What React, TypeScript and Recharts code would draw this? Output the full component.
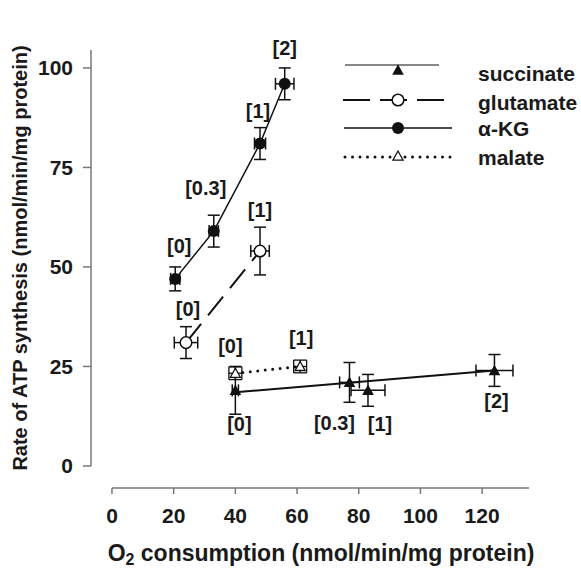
import React from "react";
import { ScatterChart, Scatter, XAxis, YAxis, ErrorBar, ReferenceLine, Label } from "recharts";

// O2 consumption (x) vs ATP synthesis (y), uncoupler dose in brackets
const doses = ["[0]", "[0.3]", "[1]", "[2]"];

const succinateO2 = [40, 77, 83, 124];
const succinateAtp = [19, 21, 19, 24];
const succinateO2Err = [1, 3.2, 5.5, 6];
const succinateAtpErr = [6, 5, 4, 4];
const succinateDoses = ["[0]", "[0.3]", "[1]", "[2]"];
const succinateFitO2 = [40, 124];
const succinateFitAtp = [18.5, 24];

const glutamateO2 = [24, 48];
const glutamateAtp = [31, 54];
const glutamateO2Err = [3.8, 3];
const glutamateAtpErr = [4, 6];
const glutamateDoses = ["[0]", "[1]"];

const akgO2 = [20.5, 33, 48, 56];
const akgAtp = [47, 59, 81, 96];
const akgO2Err = [1.5, 1.5, 1.8, 3];
const akgAtpErr = [3, 4, 4, 4];
const akgDoses = doses;

const malateO2 = [40, 61];
const malateAtp = [23.3, 25];
const malateO2Err = [2.1, 2.1];
const malateAtpErr = [1.6, 1.6];
const malateDoses = ["[0]", "[1]"];

const xTicks = [0, 20, 40, 60, 80, 100, 120];
const yTicks = [0, 25, 50, 75, 100];

// label offsets in px, per point
const succinateLabelPos = [[4, 34], [-15, 41], [12, 34], [2, 31]];
const glutamateLabelPos = [[2, -34], [0, -41]];
const akgLabelPos = [[4, -33], [-8, -43], [-2, -33], [0, -36]];
const malateLabelPos = [[-5, -27], [1, -28]];

const X_DOMAIN: [number, number] = [-6.8, 135.2];
const Y_DOMAIN: [number, number] = [-5.53, 104.5];

const INK = "#111";
const AXIS = "#777";
const FONT = "'Liberation Sans', Arial, sans-serif";

function rows(xs: number[], ys: number[], ex?: number[], ey?: number[], labels?: string[], pos?: number[][]) {
  return xs.map((x, i) => ({
    x,
    y: ys[i],
    ex: ex ? ex[i] : 0,
    ey: ey ? ey[i] : 0,
    label: labels ? labels[i] : "",
    dx: pos ? pos[i][0] : 0,
    dy: pos ? pos[i][1] : 0,
  }));
}

const succinate = rows(succinateO2, succinateAtp, succinateO2Err, succinateAtpErr, succinateDoses, succinateLabelPos);
const succinateFit = rows(succinateFitO2, succinateFitAtp);
const glutamate = rows(glutamateO2, glutamateAtp, glutamateO2Err, glutamateAtpErr, glutamateDoses, glutamateLabelPos);
const akg = rows(akgO2, akgAtp, akgO2Err, akgAtpErr, akgDoses, akgLabelPos);
const malate = rows(malateO2, malateAtp, malateO2Err, malateAtpErr, malateDoses, malateLabelPos);
const allLabels = [...succinate, ...glutamate, ...akg, ...malate];

const triPath = (cx: number, cy: number, hw: number, h: number) =>
  `M${cx},${cy - h * 0.55} L${cx + hw},${cy + h * 0.45} L${cx - hw},${cy + h * 0.45} Z`;

const FilledTriangle = (p: any) => <path d={triPath(p.cx, p.cy, 5.8, 10.5)} fill={INK} />;
const OpenTriangle = (p: any) => (
  <path d={triPath(p.cx, p.cy, 5, 9)} fill="#fff" stroke={INK} strokeWidth={1.3} />
);
const FilledCircle = (p: any) => <circle cx={p.cx} cy={p.cy} r={6} fill={INK} />;
const OpenCircle = (p: any) => <circle cx={p.cx} cy={p.cy} r={5.8} fill="#fff" stroke={INK} strokeWidth={1.5} />;
const NoMark = () => <g />;
const DoseLabel = (p: any) => (
  <text
    x={p.cx + p.payload.dx}
    y={p.cy + p.payload.dy}
    textAnchor="middle"
    dominantBaseline="central"
    fontSize={20}
    fontWeight="bold"
    fontFamily={FONT}
    fill="#1a1a1a"
  >
    {p.payload.label}
  </text>
);

const XTitle = (props: any) => {
  const vb = props.viewBox;
  return (
    <text x={vb.x + vb.width / 2 + 11} y={553} textAnchor="middle" dominantBaseline="central"
      fontSize={23} fontWeight="bold" fontFamily={FONT} fill="#1a1a1a">
      O<tspan fontSize={16} dy={6}>2</tspan>
      <tspan dy={-6}> consumption (nmol/min/mg protein)</tspan>
    </text>
  );
};

const YTitle = () => (
  <text x={20} y={258} transform="rotate(-90 20 258)" textAnchor="middle" dominantBaseline="central"
    fontSize={20} fontWeight="bold" fontFamily={FONT} fill="#1a1a1a">
    Rate of ATP synthesis (nmol/min/mg protein)
  </text>
);

function ChartLegend() {
  const text = { fontSize: 21, fontWeight: "bold" as const, fontFamily: FONT, fill: "#1a1a1a" };
  return (
    <svg width={581} height={579} style={{ position: "absolute", left: 0, top: 0, pointerEvents: "none" }}>
      <line x1={345} y1={65} x2={439} y2={65} stroke={INK} strokeWidth={1.2} />
      <path d={triPath(398, 70, 5.8, 10.5)} fill={INK} />
      <text x={478} y={73} dominantBaseline="central" {...text}>succinate</text>

      <line x1={343} y1={100} x2={444} y2={100} stroke={INK} strokeWidth={2} strokeDasharray="27 10" />
      <circle cx={398} cy={100} r={5.8} fill="#fff" stroke={INK} strokeWidth={1.5} />
      <text x={478} y={102} dominantBaseline="central" {...text}>glutamate</text>

      <line x1={344} y1={128} x2={452} y2={128} stroke={INK} strokeWidth={1.5} />
      <circle cx={398} cy={128} r={6} fill={INK} />
      <text x={478} y={128} dominantBaseline="central" {...text}>α-KG</text>

      <line x1={345} y1={157} x2={453} y2={157} stroke={INK} strokeWidth={3} strokeDasharray="0 7.5" strokeLinecap="round" />
      <path d={triPath(398, 156, 5, 9)} fill="#fff" stroke={INK} strokeWidth={1.3} />
      <text x={478} y={157} dominantBaseline="central" {...text}>malate</text>
    </svg>
  );
}

export default function App() {
  const tick = { fontSize: 21, fontWeight: "bold", fontFamily: FONT, fill: "#1a1a1a" };
  return (
    <div style={{ position: "absolute", left: 0, top: 0, width: 581, height: 579, background: "#fff" }}>
      <ScatterChart width={581} height={579} margin={{ top: 50, right: 52, bottom: 31, left: 31 }}>
        <XAxis
          type="number"
          dataKey="x"
          domain={X_DOMAIN}
          ticks={xTicks}
          axisLine={false}
          tickLine={{ stroke: AXIS, strokeWidth: 1.5 }}
          tickSize={6}
          tickMargin={14}
          tick={tick}
          height={60}
        >
          <Label content={<XTitle />} />
        </XAxis>
        <YAxis
          type="number"
          dataKey="y"
          domain={Y_DOMAIN}
          ticks={yTicks}
          axisLine={false}
          tickLine={{ stroke: AXIS, strokeWidth: 1.5 }}
          tickSize={8}
          tickMargin={10}
          tick={tick}
          width={60}
        >
          <Label content={<YTitle />} />
        </YAxis>
        <ReferenceLine
          segment={[{ x: X_DOMAIN[0], y: 0 }, { x: X_DOMAIN[0], y: Y_DOMAIN[1] }]}
          stroke={AXIS}
          strokeWidth={1.5}
          ifOverflow="visible"
        />
        <ReferenceLine
          segment={[{ x: 0, y: Y_DOMAIN[0] }, { x: X_DOMAIN[1], y: Y_DOMAIN[0] }]}
          stroke={AXIS}
          strokeWidth={1.5}
          ifOverflow="visible"
        />

        <Scatter data={succinateFit} line={{ stroke: INK, strokeWidth: 2 }} shape={NoMark} isAnimationActive={false} />
        <Scatter
          data={glutamate}
          line={{ stroke: INK, strokeWidth: 2, strokeDasharray: "24 11" }}
          shape={NoMark}
          isAnimationActive={false}
        />
        <Scatter data={akg} line={{ stroke: INK, strokeWidth: 1.5 }} shape={NoMark} isAnimationActive={false} />
        <Scatter
          data={malate}
          line={{ stroke: INK, strokeWidth: 3, strokeDasharray: "0 7.5", strokeLinecap: "round" }}
          shape={NoMark}
          isAnimationActive={false}
        />

        <Scatter data={succinate} shape={FilledTriangle} isAnimationActive={false}>
          <ErrorBar dataKey="ey" direction="y" width={6} stroke={INK} strokeWidth={1.5} />
          <ErrorBar dataKey="ex" direction="x" width={6} stroke={INK} strokeWidth={1.5} />
        </Scatter>
        <Scatter data={malate} shape={OpenTriangle} isAnimationActive={false}>
          <ErrorBar dataKey="ey" direction="y" width={6.5} stroke={INK} strokeWidth={1.3} />
          <ErrorBar dataKey="ex" direction="x" width={6.5} stroke={INK} strokeWidth={1.3} />
        </Scatter>
        <Scatter data={glutamate} shape={OpenCircle} isAnimationActive={false}>
          <ErrorBar dataKey="ey" direction="y" width={6} stroke={INK} strokeWidth={1.5} />
          <ErrorBar dataKey="ex" direction="x" width={6} stroke={INK} strokeWidth={1.5} />
        </Scatter>
        <Scatter data={akg} shape={FilledCircle} isAnimationActive={false}>
          <ErrorBar dataKey="ey" direction="y" width={6} stroke={INK} strokeWidth={1.5} />
          <ErrorBar dataKey="ex" direction="x" width={6} stroke={INK} strokeWidth={1.5} />
        </Scatter>

        <Scatter data={allLabels} shape={DoseLabel} isAnimationActive={false} />
      </ScatterChart>
      <ChartLegend />
    </div>
  );
}
